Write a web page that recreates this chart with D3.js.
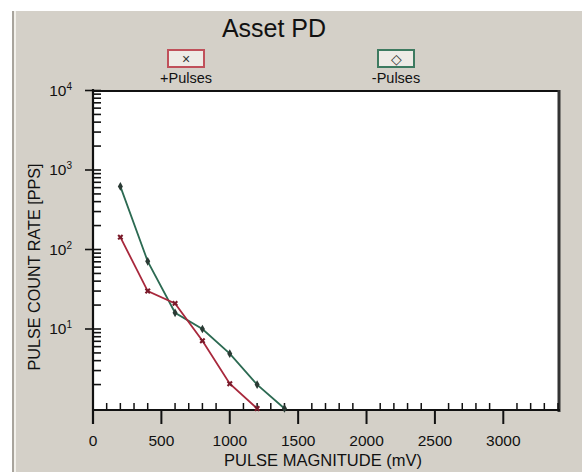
<!DOCTYPE html>
<html><head><meta charset="utf-8">
<script src="https://cdn.jsdelivr.net/npm/d3@7"></script>
<style>body{margin:0;background:#fff}svg{display:block;font-family:"Liberation Sans",Arial,sans-serif}</style>
</head><body>
<svg id="c" width="582" height="472"></svg>
<script>
const title = "Asset PD";
const seriesNames = ["+Pulses", "-Pulses"];
const xPos = [200, 400, 600, 800, 1000, 1200];
const posPulses = [143, 30, 21, 7.1, 2.05, 1.0];
const xNeg = [200, 400, 600, 800, 1000, 1200, 1400];
const negPulses = [622, 71, 16, 10, 4.9, 2.0, 1.0];
const xTicks = [0, 500, 1000, 1500, 2000, 2500, 3000];
const yTicks = [10, 100, 1000, 10000];
const yTickLabels = [["10","1"],["10","2"],["10","3"],["10","4"]];
const xLabel = "PULSE MAGNITUDE (mV)";
const yLabel = "PULSE COUNT RATE [PPS]";

const svg = d3.select("#c");
const W = 582, H = 472;
// panel
svg.append("rect").attr("x",12).attr("y",11).attr("width",W-12).attr("height",H-11).attr("fill","#d4d0c8");
svg.append("rect").attr("x",12).attr("y",11).attr("width",2).attr("height",H-11).attr("fill","#a8a49c");
svg.append("rect").attr("x",14).attr("y",11).attr("width",2).attr("height",H-11).attr("fill","#f2f0ea");

const x = d3.scaleLinear().domain([0, 3400]).range([93, 558]);
const y = d3.scaleLog().domain([1, 10000]).range([408.5, 90.5]);

// plot area
svg.append("rect").attr("x",93).attr("y",91).attr("width",466).attr("height",319).attr("fill","#fff");
svg.append("line").attr("x1",93).attr("x2",560).attr("y1",91).attr("y2",91).attr("stroke","#111").attr("stroke-width",2);
svg.append("line").attr("x1",559).attr("x2",559).attr("y1",90).attr("y2",412).attr("stroke","#333").attr("stroke-width",3);

// x axis minor ticks (inside, upward)
const xMinor = d3.range(100, 3401, 100);
svg.append("g").selectAll("line").data(xMinor).join("line")
  .attr("x1",d=>x(d)).attr("x2",d=>x(d)).attr("y1",410).attr("y2",d=>d%500===0?410:403)
  .attr("stroke","#111").attr("stroke-width",1.5);
// x major ticks (outside, down)
svg.append("g").selectAll("line").data(xTicks).join("line")
  .attr("x1",d=>x(d)).attr("x2",d=>x(d)).attr("y1",410).attr("y2",424)
  .attr("stroke","#111").attr("stroke-width",2);
svg.append("g").selectAll("text").data(xTicks).join("text")
  .attr("x",d=>x(d)).attr("y",446).attr("text-anchor","middle")
  .attr("font-size",15.5).attr("fill","#111").text(d=>d);

// y minor ticks inside
const yMinor = [];
[1,10,100,1000].forEach(b=>{for(let k=2;k<=9;k++) yMinor.push(b*k);});
svg.append("g").selectAll("line").data(yMinor).join("line")
  .attr("x1",93).attr("x2",101).attr("y1",d=>y(d)).attr("y2",d=>y(d))
  .attr("stroke","#111").attr("stroke-width",1.6);
svg.append("g").selectAll("line").data(yTicks).join("line")
  .attr("x1",85).attr("x2",101).attr("y1",d=>y(d)).attr("y2",d=>y(d))
  .attr("stroke","#111").attr("stroke-width",1.6);
const yt = svg.append("g").selectAll("text").data(yTicks).join("text")
  .attr("x",72).attr("y",(d)=>y(d)+5).attr("text-anchor","end")
  .attr("font-size",15.5).attr("fill","#111");
yt.append("tspan").text((d,i)=>yTickLabels[i][0]);
yt.append("tspan").attr("dy",-6).attr("font-size",10).text((d,i)=>yTickLabels[i][1]);

// axes lines
svg.append("line").attr("x1",93).attr("x2",93).attr("y1",89).attr("y2",424).attr("stroke","#111").attr("stroke-width",2.2);
svg.append("line").attr("x1",92).attr("x2",560).attr("y1",410).attr("y2",410).attr("stroke","#111").attr("stroke-width",2.2);

// lines
const red = "#a8283c", green = "#2c6a52";
const line = d3.line().x(d=>x(d[0])).y(d=>y(d[1]));
const posData = xPos.map((v,i)=>[v,posPulses[i]]);
const negData = xNeg.map((v,i)=>[v,negPulses[i]]);
svg.append("path").datum(negData).attr("d",line).attr("fill","none").attr("stroke",green).attr("stroke-width",1.8);
svg.append("path").datum(posData).attr("d",line).attr("fill","none").attr("stroke",red).attr("stroke-width",1.8);
// markers
svg.append("g").selectAll("path").data(negData).join("path")
  .attr("transform",d=>`translate(${x(d[0])},${y(d[1])})`)
  .attr("d",d3.symbol(d3.symbolDiamond,22)).attr("fill","#2a3a34");
svg.append("g").selectAll("path").data(posData).join("path")
  .attr("transform",d=>`translate(${x(d[0])},${y(d[1])}) rotate(45)`)
  .attr("d",d3.symbol(d3.symbolCross,22)).attr("fill","#7a1a2a");

// title
svg.append("text").attr("x",274).attr("y",37).attr("text-anchor","middle").attr("font-size",25).attr("fill","#111").text(title);

// legend
const legs = [{cx:186, name:seriesNames[0], col:"#c0505a", sym:"×"},{cx:396, name:seriesNames[1], col:"#3d7a60", sym:"◇"}];
const lg = svg.append("g").selectAll("g").data(legs).join("g");
lg.append("rect").attr("x",d=>d.cx-18).attr("y",50).attr("width",36).attr("height",17)
  .attr("fill","#eeebe6").attr("stroke",d=>d.col).attr("stroke-width",2);
lg.append("text").attr("x",d=>d.cx).attr("y",64).attr("text-anchor","middle").attr("font-size",14).attr("fill","#333").text(d=>d.sym);
lg.append("text").attr("x",d=>d.cx).attr("y",83).attr("text-anchor","middle").attr("font-size",14.5).attr("fill","#111").text(d=>d.name);

// axis labels
svg.append("text").attr("x",323).attr("y",466).attr("text-anchor","middle").attr("font-size",16.5).attr("fill","#111").text(xLabel);
svg.append("text").attr("transform","translate(40,267) rotate(-90)").attr("text-anchor","middle").attr("font-size",16.2).attr("fill","#111").text(yLabel);
</script>
</body></html>
